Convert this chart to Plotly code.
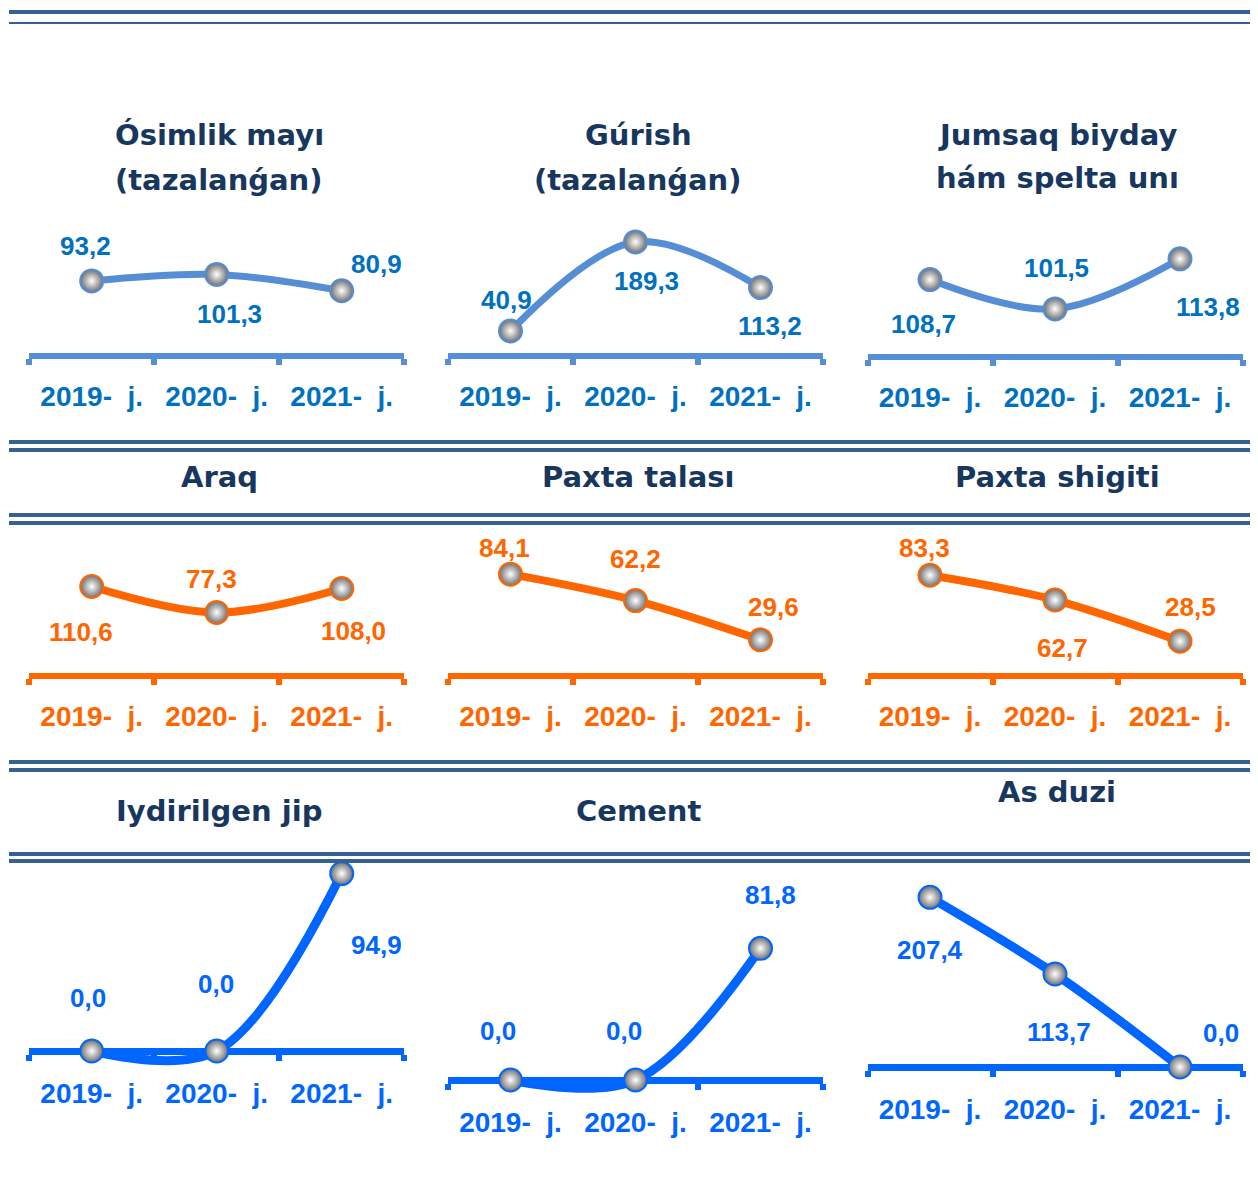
import plotly.graph_objects as go

# ---------------- data ----------------
categories = ["2019-\u00a0\u00a0j.", "2020-\u00a0\u00a0j.", "2021-\u00a0\u00a0j."]

osimlik_mayi = [93.2, 101.3, 80.9]
gurish = [40.9, 189.3, 113.2]
jumsaq_biyday = [108.7, 101.5, 113.8]
araq = [110.6, 77.3, 108.0]
paxta_talasi = [84.1, 62.2, 29.6]
paxta_shigiti = [83.3, 62.7, 28.5]
iydirilgen_jip = [0.0, 0.0, 94.9]
cement = [0.0, 0.0, 81.8]
as_duzi = [207.4, 113.7, 0.0]

titles = [
    ["Ósimlik mayı", "(tazalanǵan)"],
    ["Gúrish", "(tazalanǵan)"],
    ["Jumsaq biyday", "hám spelta unı"],
    ["Araq"],
    ["Paxta talası"],
    ["Paxta shigiti"],
    ["Iydirilgen jip"],
    ["Cement"],
    ["As duzi"],
]
series = [osimlik_mayi, gurish, jumsaq_biyday, araq, paxta_talasi,
          paxta_shigiti, iydirilgen_jip, cement, as_duzi]

# ---------------- layout / style ----------------
OFF = 8  # page body margin
W, H = 1250, 1175
def px(p):
    return (p - OFF) / W
def py(p):
    return 1 - (p - OFF) / H

col_x = [(29.2, 404.2), (448.0, 823.0), (867.5, 1242.5)]
title_cx = [219, 638, 1057]

row_style = [
    dict(line="#558ED5", text="#0070C0", lw=7, aw=6),
    dict(line="#FF6600", text="#FF6600", lw=8, aw=6),
    dict(line="#0066FF", text="#0066FF", lw=9, aw=7),
]
row_band = [(200, 385), (528, 700), (860, 1110)]

# per chart: axis pixel, px per unit, value at axis
scales = [
    (355.5, 0.80, 0.0), (355.5, 0.60, 0.0), (356.5, 4.07, 89.8),
    (675.5, 0.78, -3.5), (675.5, 1.205, 0.0), (675.5, 1.204, 0.0),
    (1051.0, 1.87, 0.0), (1080.0, 1.61, 0.0), (1067.0, 0.818, 0.0),
]
# label offsets (dx, dy in px, screen direction) relative to marker
label_off = [
    [(-6, -35), (13, 40), (35, -27)],
    [(-4, -31), (11, 39), (9, 38)],
    [(-7, 44), (1, -41), (28, 48)],
    [(-11, 45), (-5, -33), (12, 42)],
    [(-6, -26), (0, -42), (13, -33)],
    [(-6, -27), (7, 48), (10, -34)],
    [(-4, -53), (-1, -67), (35, 71)],
    [(-13, -49), (-12, -49), (10, -53)],
    [(0, 53), (4, 58), (41, -34)],
]
title_y = [
    [135, 180], [135, 180], [135, 178],
    [477], [477], [477],
    [811], [811], [792],
]

fig = go.Figure()
annotations = []
layout = dict(
    width=W, height=H, margin=dict(l=0, r=0, t=0, b=0),
    paper_bgcolor="white", plot_bgcolor="rgba(0,0,0,0)",
    showlegend=False,
)

for i, vals in enumerate(series):
    r, c = divmod(i, 3)
    st = row_style[r]
    sfx = "" if i == 0 else str(i + 1)
    axis_px, s, v0 = scales[i]
    top_px, bot_px = row_band[r]
    yr = [v0 + (axis_px - bot_px) / s, v0 + (axis_px - top_px) / s]
    x0, x1 = col_x[c]
    layout["xaxis" + sfx] = dict(
        domain=[px(x0), px(x1)], anchor="free", position=py(axis_px),
        type="category", range=[-0.5, 2.5], tickson="boundaries",
        showline=True, linecolor=st["line"], linewidth=st["aw"],
        ticks="outside", ticklen=6, tickwidth=6, tickcolor=st["line"],
        showgrid=False, zeroline=False, layer="below traces",
        tickfont=dict(family="Liberation Sans, Arial, sans-serif", size=28,
                      color=st["text"], weight="bold"),
        ticklabelstandoff=14, fixedrange=True,
    )
    layout["yaxis" + sfx] = dict(
        domain=[py(bot_px), py(top_px)], anchor="x" + sfx, range=yr,
        visible=False, fixedrange=True,
    )
    fig.add_trace(go.Scatter(
        x=categories, y=vals, xaxis="x" + sfx, yaxis="y" + sfx,
        mode="lines+markers", cliponaxis=False, hoverinfo="skip",
        line=dict(shape="spline", smoothing=1, width=st["lw"], color=st["line"]),
        marker=dict(size=23, color="#6e6e6e",
                    gradient=dict(type="radial", color="#ffffff"),
                    line=dict(color=st["line"], width=2)),
    ))
    for k, v in enumerate(vals):
        dx, dy = label_off[i][k]
        annotations.append(dict(
            x=categories[k], y=v, xref="x" + sfx, yref="y" + sfx,
            text=f"{v:.1f}".replace(".", ","), showarrow=False,
            xshift=dx, yshift=-dy, xanchor="center", yanchor="middle",
            font=dict(family="Liberation Sans Narrow, Arial Narrow, Liberation Sans, Arial, sans-serif",
                      size=26, color=st["text"], weight="bold"),
        ))
    for line_txt, ty in zip(titles[i], title_y[i]):
        annotations.append(dict(
            x=px(title_cx[c]), y=py(ty), xref="paper", yref="paper",
            text=line_txt, showarrow=False, xanchor="center", yanchor="middle",
            font=dict(family="DejaVu Sans, Verdana, sans-serif", size=29,
                      color="#17375E", weight="bold"),
        ))

# double separator lines
sep_lines = [(12, 4), (23, 2), (442, 4), (450, 4), (515, 4), (523, 4),
             (762, 4), (770, 4), (854, 4), (861, 4)]
shapes = []
for yy, wd in sep_lines:
    shapes.append(dict(type="line", xref="paper", yref="paper",
                       x0=px(9), x1=1, y0=py(yy), y1=py(yy),
                       line=dict(color="#366092", width=wd)))

layout["annotations"] = annotations
layout["shapes"] = shapes
fig.update_layout(**layout)
fig.write_html("out.html")
